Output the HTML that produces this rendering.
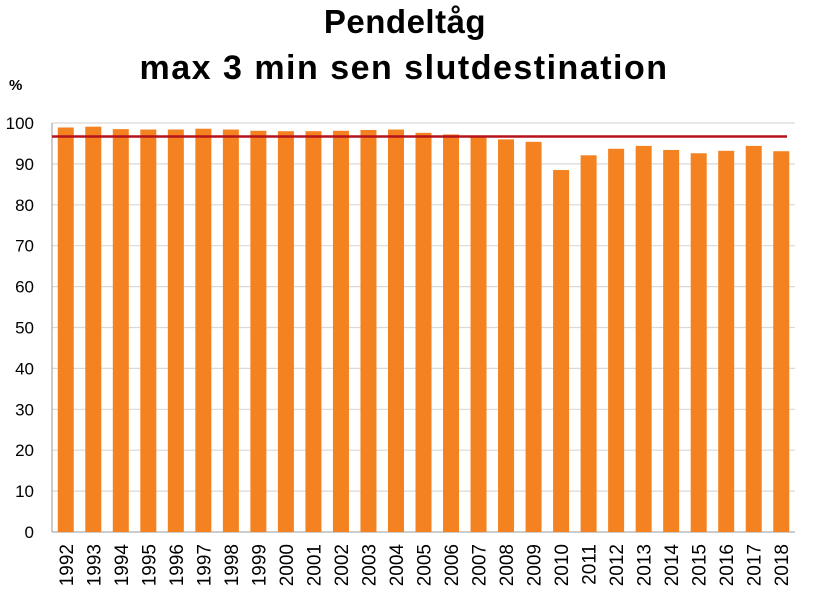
<!DOCTYPE html>
<html><head><meta charset="utf-8"><style>
body{margin:0;background:#fff;font-family:"Liberation Sans",sans-serif}
</style></head><body>
<svg id="chart" width="819" height="605" xmlns="http://www.w3.org/2000/svg">
<text x="405" y="33" text-anchor="middle" font-size="33" font-weight="bold" letter-spacing="0.5">Pendeltåg</text>
<text x="404" y="79" text-anchor="middle" font-size="34" font-weight="bold" letter-spacing="1.5">max 3 min sen slutdestination</text>
<text x="9" y="90" font-size="15" font-weight="bold">%</text>
<g id="grid"></g><g id="bars"></g><g id="xl"></g><g id="yl"></g>
</svg>
<script>
const years=["1992","1993","1994","1995","1996","1997","1998","1999","2000","2001","2002","2003","2004","2005","2006","2007","2008","2009","2010","2011","2012","2013","2014","2015","2016","2017","2018"];
const values=[98.9,99.1,98.5,98.4,98.4,98.6,98.4,98.1,98.0,98.0,98.1,98.3,98.4,97.6,97.2,96.6,96.0,95.4,88.5,92.1,93.7,94.4,93.4,92.6,93.2,94.4,93.1];
const target=96.7;
const yTicks=[0,10,20,30,40,50,60,70,80,90,100];
const NS="http://www.w3.org/2000/svg";
const x0=52,x1=795,y0=532,yTop=123,pitch=(x1-x0)/years.length,bw=16;
const y=v=>y0-(v/100)*(y0-yTop);
const xc=i=>x0+pitch*(i+0.5);
function mk(t,a,p){const e=document.createElementNS(NS,t);for(const k in a)e.setAttribute(k,a[k]);p.appendChild(e);return e;}
const grid=document.getElementById('grid'),bars=document.getElementById('bars'),xl=document.getElementById('xl'),yl=document.getElementById('yl');
yTicks.forEach(t=>{
  if(t>0){const g=mk('line',{x1:x0,x2:x1,y1:y(t),y2:y(t),stroke:'#d9d9d9','stroke-width':1.2},grid);
  
  }
  const l=mk('text',{x:34,y:y(t)+6,'text-anchor':'end','font-size':17},yl);l.textContent=t;
  
  
});
const ax=mk('line',{x1:x0,x2:x0,y1:yTop,y2:y0,stroke:'#999'},grid);


const bx=mk('line',{x1:x0,x2:x1,y1:y0,y2:y0,stroke:'#999'},grid);


values.forEach((v,i)=>{
  const r=mk('rect',{x:xc(i)-bw/2,y:y(v),width:bw,height:y0-y(v),fill:'#f58220'},bars);
  
  
  const t=mk('text',{x:0,y:0,'font-size':19,'text-anchor':'end',transform:`translate(${xc(i)+7},${y0+12}) rotate(-90)`},xl);
  t.textContent=years[i];
  
  
});
const tl=mk('line',{x1:x0,x2:787,y1:y(target),y2:y(target),stroke:'#b5121b','stroke-width':2.5},bars);


</script>
</body></html>
